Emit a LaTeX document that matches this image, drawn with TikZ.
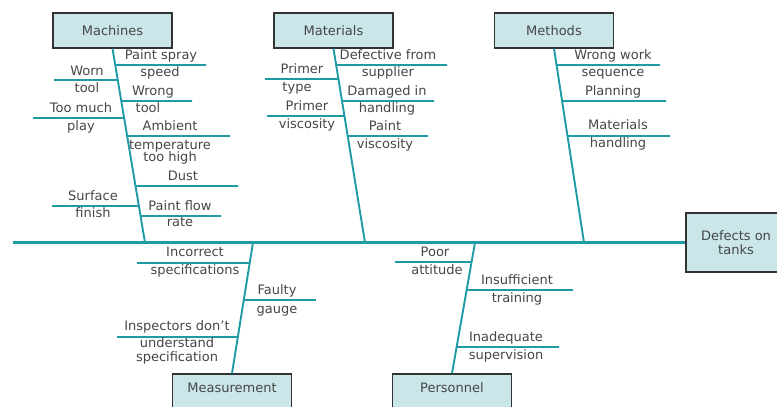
\documentclass[tikz,border=0pt]{standalone}
\usepackage{fontspec}
\setmainfont{DejaVu Sans}
\definecolor{bonecol}{RGB}{30,155,165}
\definecolor{boxfill}{RGB}{202,230,233}
\definecolor{boxedge}{RGB}{50,50,50}
\definecolor{txt}{RGB}{70,70,70}

% a sub-cause line: #1 = parent bone (p--q), #2 = name, #3 = y, #4 = x of free end
\newcommand\twig[4]{%
  \coordinate (#2a) at (intersection of #1 and 0,#3--10,#3);
  \coordinate (#2b) at (#4,#3);
  \draw[twigline] (#2a) -- (#2b);}

\begin{document}
\begin{tikzpicture}[x=1pt,y=-1pt,
  catbox/.style={draw=boxedge, line width=1.3pt, fill=boxfill, inner sep=0pt,
    minimum width=119pt, minimum height=35pt,
    font=\fontsize{13}{13.5}\selectfont, text=txt},
  lowbox/.style={catbox, minimum height=40pt, text height=9pt, text depth=12.5pt},
  lbl/.style={inner sep=0pt, text height=9pt, text depth=2.5pt,
    font=\fontsize{13}{13.5}\selectfont, text=txt},
  spineline/.style={draw=bonecol, line width=2.4pt},
  boneline/.style={draw=bonecol, line width=1.9pt},
  twigline/.style={draw=bonecol, line width=1.8pt}]

\useasboundingbox (0,0) rectangle (777,407);
\clip (0,0) rectangle (777,407);

% category boxes and effect box
\node[catbox] (mach) at (112.5,30.5) {Machines};
\node[catbox] (matl) at (333.5,30.5) {Materials};
\node[catbox] (meth) at (554,30.5) {Methods};
\node[lowbox] (meas) at (232,394) {Measurement};
\node[lowbox] (pers) at (452,394) {Personnel};
\node[catbox, minimum width=100pt, minimum height=59pt, align=center] (eff)
  at (736,242.5) {Defects on\\tanks};

% spine and its junctions
\coordinate (tail) at (13,242.5);
\coordinate (jmach) at (145,242.5);
\coordinate (jmatl) at (365,242.5);
\coordinate (jmeth) at (584,242.5);
\coordinate (jmeas) at (253,242.5);
\coordinate (jpers) at (475,242.5);
\draw[spineline] (tail) -- (eff.west);

% main bones
\draw[boneline] (mach.south) -- (jmach);
\draw[boneline] (matl.south) -- (jmatl);
\draw[boneline] (meth.south) -- (jmeth);
\draw[boneline] (jmeas) -- (meas.north);
\draw[boneline] (jpers) -- (pers.north);

% Machines
\twig{mach.south--jmach}{ma1}{65}{206}
\twig{mach.south--jmach}{ma2}{80}{54}
\twig{mach.south--jmach}{ma3}{101}{192}
\twig{mach.south--jmach}{ma4}{118}{33}
\twig{mach.south--jmach}{ma5}{136}{230}
\twig{mach.south--jmach}{ma6}{186}{238}
\twig{mach.south--jmach}{ma7}{206}{52}
\twig{mach.south--jmach}{ma8}{216}{221}
\node[lbl] (l1)  at (161,56)  {Paint spray};
\node[lbl] (l2)  at (160,73)  {speed};
\node[lbl] (l3)  at (87,72)   {Worn};
\node[lbl] (l4)  at (87,89)   {tool};
\node[lbl] (l5)  at (153,92)  {Wrong};
\node[lbl] (l6)  at (148,109) {tool};
\node[lbl] (l7)  at (81,109)  {Too much};
\node[lbl] (l8)  at (81,127)  {play};
\node[lbl] (l9)  at (170,127) {Ambient};
\node[lbl] (l10) at (170,146) {temperature};
\node[lbl] (l11) at (170,158) {too high};
\node[lbl] (l12) at (183,177) {Dust};
\node[lbl] (l13) at (93,197)  {Surface};
\node[lbl] (l14) at (93,214)  {finish};
\node[lbl] (l15) at (180,207) {Paint flow};
\node[lbl] (l16) at (180,223) {rate};

% Materials
\twig{matl.south--jmatl}{mt1}{65}{447}
\twig{matl.south--jmatl}{mt2}{79}{265}
\twig{matl.south--jmatl}{mt3}{101}{434}
\twig{matl.south--jmatl}{mt4}{116}{267}
\twig{matl.south--jmatl}{mt5}{136}{428}
\node[lbl] (m1)  at (388,56)  {Defective from};
\node[lbl] (m2)  at (388,73)  {supplier};
\node[lbl] (m3)  at (302,70)  {Primer};
\node[lbl] (m4)  at (297,88)  {type};
\node[lbl] (m5)  at (387,92)  {Damaged in};
\node[lbl] (m6)  at (387,109) {handling};
\node[lbl] (m7)  at (307,107) {Primer};
\node[lbl] (m8)  at (307,125) {viscosity};
\node[lbl] (m9)  at (385,127) {Paint};
\node[lbl] (m10) at (385,145) {viscosity};

% Methods
\twig{meth.south--jmeth}{me1}{65}{660}
\twig{meth.south--jmeth}{me2}{101}{666}
\twig{meth.south--jmeth}{me3}{136}{670}
\node[lbl] (n1) at (613,56)  {Wrong work};
\node[lbl] (n2) at (613,73)  {sequence};
\node[lbl] (n3) at (613,92)  {Planning};
\node[lbl] (n4) at (618,126) {Materials};
\node[lbl] (n5) at (618,144) {handling};

% Measurement
\twig{jmeas--meas.north}{ms1}{263}{137}
\twig{jmeas--meas.north}{ms2}{300}{316}
\twig{jmeas--meas.north}{ms3}{337}{117}
\node[lbl] (s1) at (195,253) {Incorrect};
\node[lbl] (s2) at (195,271) {specifications};
\node[lbl] (s3) at (277,291) {Faulty};
\node[lbl] (s4) at (277,310) {gauge};
\node[lbl] (s5) at (177,327) {Inspectors don't};
\node[lbl] (s6) at (177,344) {understand};
\node[lbl] (s7) at (177,358) {specification};

% Personnel
\twig{jpers--pers.north}{pe1}{262}{395}
\twig{jpers--pers.north}{pe2}{290}{573}
\twig{jpers--pers.north}{pe3}{347}{559}
\node[lbl] (p1) at (435,253) {Poor};
\node[lbl] (p2) at (437,271) {attitude};
\node[lbl] (p3) at (517,281) {Insufficient};
\node[lbl] (p4) at (517,299) {training};
\node[lbl] (p5) at (506,338) {Inadequate};
\node[lbl] (p6) at (506,356) {supervision};
\end{tikzpicture}
\end{document}
